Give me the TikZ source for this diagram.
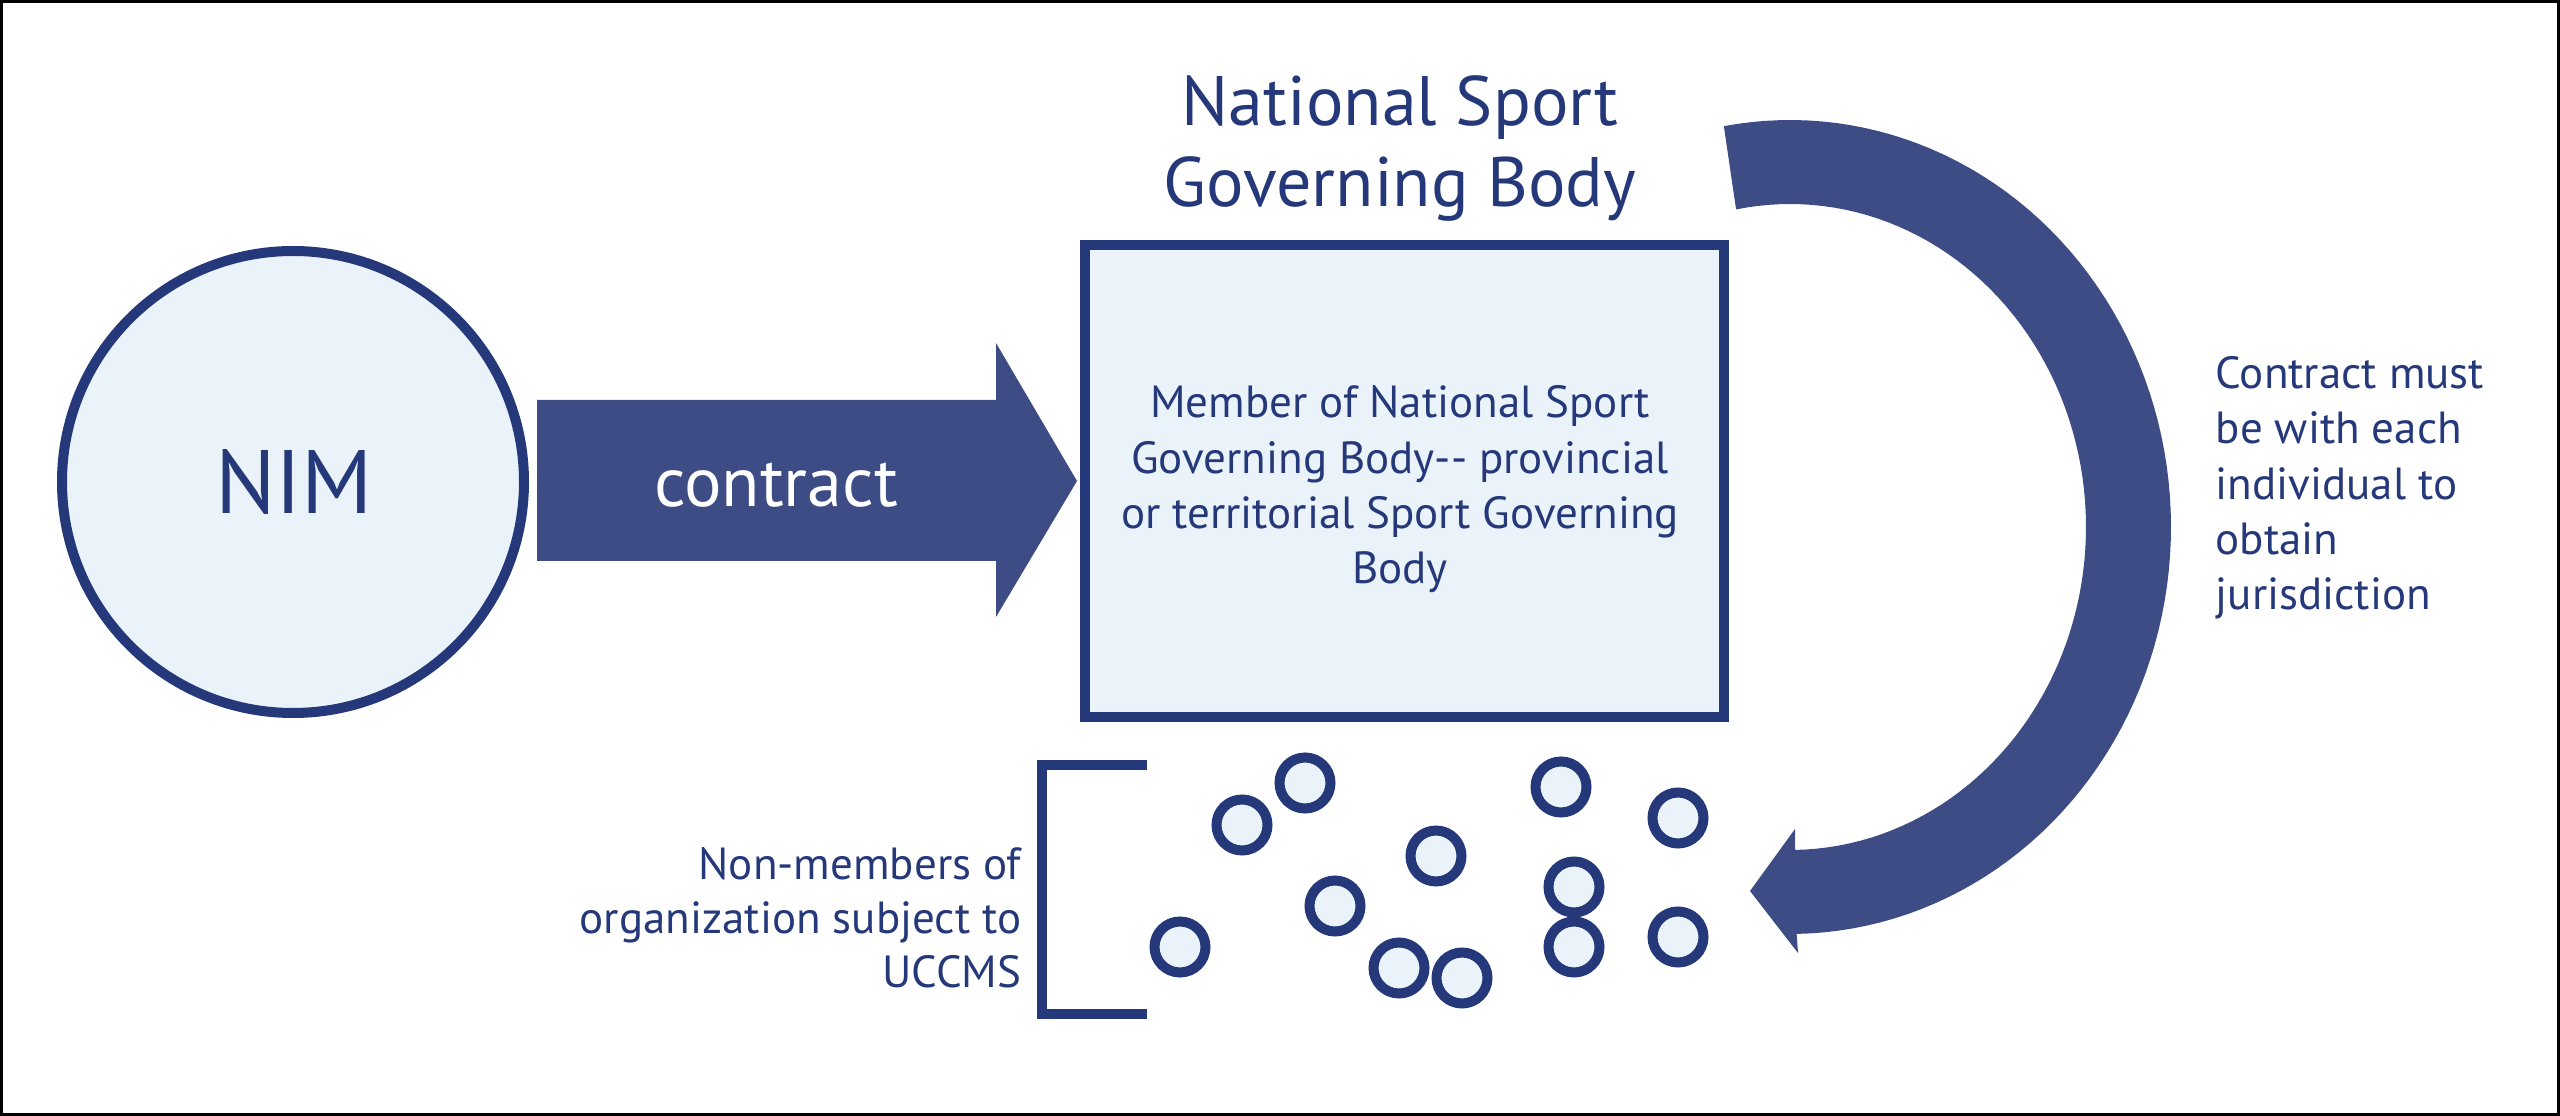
\documentclass[tikz,border=0pt]{standalone}
\usepackage{fontspec}
\setmainfont{PT Sans}
\definecolor{navy}{RGB}{37,56,122}
\definecolor{arrowcol}{RGB}{62,76,133}
\definecolor{lightfill}{RGB}{234,242,250}
\tikzset{
  body/.style={text=navy, font=\fontsize{12.8pt}{15.75pt}\selectfont, inner sep=0pt},
  ring/.style={draw=navy, line width=10*0.01cm, fill=lightfill},
  dot/.style={circle, draw=navy, line width=10*0.01cm, fill=lightfill, minimum size=51*0.01cm, inner sep=0pt},
}
\begin{document}
\begin{tikzpicture}[x=0.01cm, y=-0.01cm]
\useasboundingbox (0,0) rectangle (2560,1116);
\draw[black, line width=3*0.01cm] (1.5,1.5) rectangle (2558.5,1114.5);

% NIM circle
\node[circle, ring, minimum size=462*0.01cm, inner sep=0pt] (nim) at (293,482) {};
\node[anchor=base, text=navy, font=\fontsize{25.6pt}{30pt}\selectfont, inner sep=0pt] (nimtxt) at (294,514) {NIM};

% contract arrow
\fill[arrowcol] (537,400) -- (996,400) -- (996,343) -- (1077,481) -- (996,617) -- (996,561) -- (537,561) -- cycle;
\node[anchor=base, text=white, font=\fontsize{19.92pt}{24pt}\selectfont, inner sep=0pt] (contract) at (776,507) {contract};

% title (base = last line)
\node[anchor=base, align=center, text=navy, font=\fontsize{19.92pt}{23.05pt}\selectfont, inner sep=0pt] (title) at (1400,207) {National Sport\\Governing Body};

% box
\node[rectangle, ring, minimum width=639*0.01cm, minimum height=472*0.01cm, inner sep=0pt] (box) at (1404.5,481) {};
\node[body, anchor=base, align=center] (boxtxt) at (1400,584) {Member of National Sport\\Governing Body-{}- provincial\\or territorial Sport Governing\\Body};

% curved arrow
\fill[arrowcol] plot[domain=100:-89, samples=90] ({1790+381*cos(\x)},{527-407*sin(\x)})
  -- (1798,953) -- (1750,891) -- (1795,829)
  -- plot[domain=-89:100.5, samples=90] ({1790+296*cos(\x)},{527-323*sin(\x)}) -- cycle;

% right text
\node[body, anchor=base west, align=left] (righttxt) at (2215,610) {Contract must\\be with each\\individual to\\obtain\\jurisdiction};

% left text
\node[body, anchor=base east, align=right, font=\fontsize{12.8pt}{15.36pt}\selectfont] (lefttxt) at (1022,988) {Non-members of\\organization subject to\\UCCMS};

% bracket
\draw[navy, line width=10*0.01cm, line join=miter] (1147,765) -- (1042,765) -- (1042,1014) -- (1147,1014);

% small circles
\node[dot] (d1) at (1180,947) {};
\node[dot] (d2) at (1242,825) {};
\node[dot] (d3) at (1305,783) {};
\node[dot] (d4) at (1335,906) {};
\node[dot] (d5) at (1436,856) {};
\node[dot] (d6) at (1399,968) {};
\node[dot] (d7) at (1462,978) {};
\node[dot] (d8) at (1561,787) {};
\node[dot] (d9) at (1574,887) {};
\node[dot] (d10) at (1574,947) {};
\node[dot] (d11) at (1678,818) {};
\node[dot] (d12) at (1678,937) {};
\end{tikzpicture}
\end{document}
